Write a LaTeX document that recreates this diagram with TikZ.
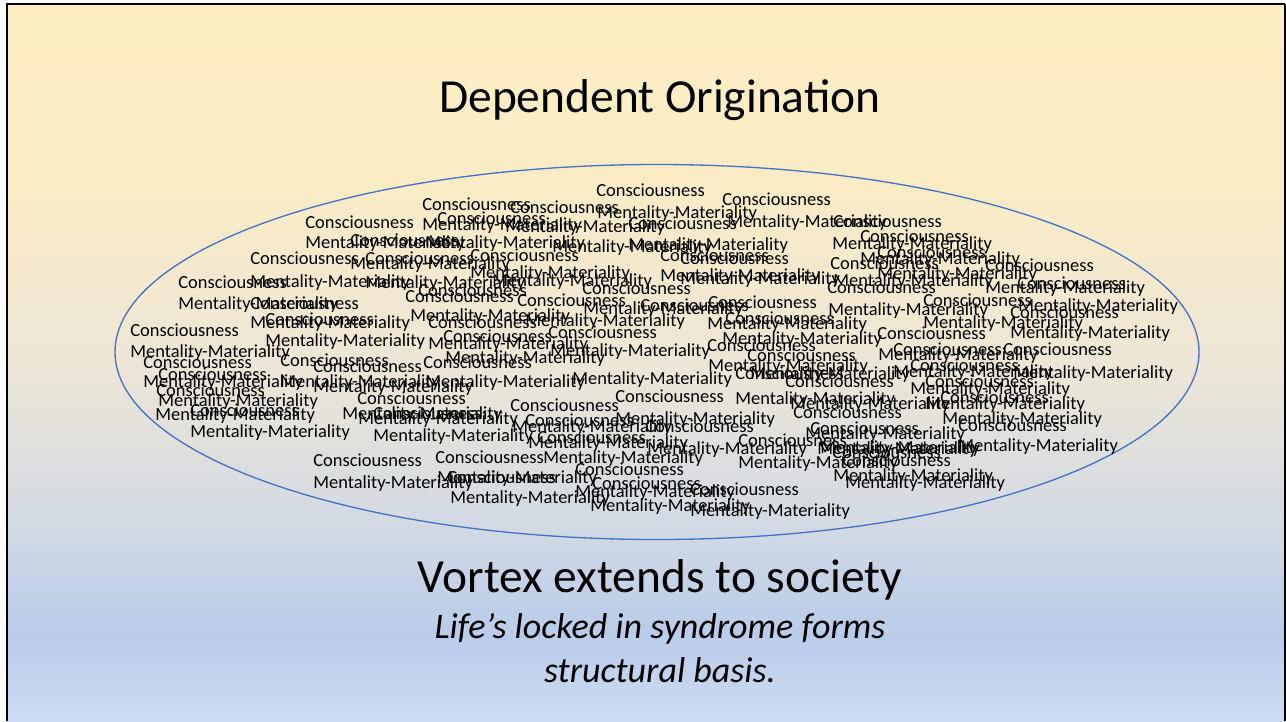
\documentclass[tikz,border=0pt]{standalone}
\usepackage{fontspec}
\setmainfont{Carlito}
\usepackage{xcolor}
\usepackage{tikz}
\definecolor{slideA}{HTML}{FFEEC2}
\definecolor{slideB}{HTML}{FBECC6}
\definecolor{slideC}{HTML}{EDE6D6}
\definecolor{slideD}{HTML}{D3DAE3}
\definecolor{slideE}{HTML}{B9CCEA}
\definecolor{slideF}{HTML}{CDDCF2}
\definecolor{ringblue}{HTML}{4472C4}
\pgfdeclareverticalshading{slidebg}{100bp}{color(0bp)=(slideF); color(25bp)=(slideF);
  color(31bp)=(slideE); color(39bp)=(slideD); color(50bp)=(slideC);
  color(62.5bp)=(slideB); color(75bp)=(slideA); color(100bp)=(slideA)}
\tikzset{
  lbl/.style={anchor=base west,inner sep=0pt,font=\fontsize{10.5}{12}\selectfont},
  ring/.style={draw=ringblue,line width=0.75pt}
}
\newcommand{\drawCons}[2]{% left end, middle: x,y
  \node[lbl] (cons-#1-#2) at (#1,#2+6) {Consciousness};
}
\newcommand{\drawMentMat}[2]{% left end, middle: x,y
  \node[lbl] (mm-#1-#2) at (#1,#2+6) {Mentality-Materiality};
}

\begin{document}
\begin{tikzpicture}[x=0.02cm,y=-0.02cm]
\useasboundingbox (0,0) rectangle (1286,721);

% Slide background
\fill[white] (0,0) rectangle (1286,721);
\shade[shading=slidebg] (7,4) rectangle (1285,721);
\draw[line width=1.1pt] (7,721) -- (7,4) -- (1285,4);
\draw[line width=0.6pt] (1285,4) -- (1285,721);

% Title
\node[font=\fontsize{27}{32}\selectfont,anchor=base] (title) at (660,112) {Dependent Origination};

% Ring
\draw[ring] (657,352) ellipse (542 and 187.5);

% Top of the ring
\drawCons{596}{190} \drawCons{722}{199} \drawCons{422}{204} \drawCons{510}{207}
\drawMentMat{597}{212} \drawCons{437}{218} \drawCons{305}{222} \drawCons{628}{223}
\drawCons{833}{221} \drawMentMat{422}{224} \drawMentMat{505}{226} \drawMentMat{727}{221}
\drawCons{350}{240} \drawCons{860}{236} \drawMentMat{305}{242} \drawMentMat{425}{242}
\drawMentMat{552}{246} \drawMentMat{628}{244} \drawMentMat{832}{243}
\drawCons{250}{258} \drawCons{365}{258} \drawCons{470}{255} \drawCons{660}{255}
\drawCons{680}{258} \drawCons{877}{252} \drawCons{830}{263} \drawCons{985}{265}
\drawMentMat{860}{258} \drawMentMat{350}{263}

% Upper middle
\drawCons{178}{282} \drawMentMat{250}{281} \drawMentMat{365}{282} \drawMentMat{470}{272}
\drawMentMat{492}{280} \drawMentMat{660}{275} \drawMentMat{680}{278} \drawMentMat{877}{273}
\drawMentMat{833}{280} \drawMentMat{985}{287} \drawCons{418}{290} \drawCons{405}{296}
\drawCons{582}{288} \drawCons{827}{287} \drawCons{1017}{283}
\drawMentMat{178}{303} \drawCons{250}{303} \drawCons{923}{300} \drawCons{517}{300}
\drawCons{640}{305} \drawCons{708}{302} \drawMentMat{1018}{305} \drawMentMat{583}{308}
\drawMentMat{828}{309} \drawCons{1010}{312} \drawMentMat{410}{315} \drawCons{265}{319}
\drawCons{725}{318} \drawMentMat{525}{320} \drawMentMat{250}{322} \drawCons{428}{322}
\drawMentMat{923}{322} \drawMentMat{707}{323}
\drawCons{130}{330} \drawCons{548}{332} \drawMentMat{1010}{332} \drawCons{877}{333}
\drawCons{443}{336} \drawMentMat{265}{340} \drawMentMat{722}{338} \drawMentMat{428}{343}
\drawCons{707}{345} \drawCons{893}{349} \drawCons{1003}{349} \drawMentMat{130}{351}
\drawMentMat{550}{350} \drawMentMat{878}{354} \drawCons{747}{355} \drawMentMat{445}{357}

% Lower middle
\drawCons{143}{362} \drawCons{280}{360} \drawCons{313}{366} \drawCons{423}{362}
\drawCons{910}{365} \drawMentMat{708}{365} \drawMentMat{893}{371} \drawMentMat{1013}{372}
\drawCons{158}{374} \drawCons{735}{373} \drawMentMat{750}{373} \drawMentMat{572}{378}
\drawMentMat{143}{381} \drawMentMat{280}{381} \drawMentMat{425}{381} \drawCons{785}{381}
\drawCons{925}{381} \drawMentMat{313}{386} \drawMentMat{910}{388} \drawCons{156}{390}
\drawCons{615}{396} \drawCons{940}{397} \drawCons{357}{398} \drawMentMat{735}{398}
\drawMentMat{158}{400} \drawMentMat{790}{403} \drawMentMat{925}{403} \drawCons{510}{405}
\drawCons{190}{410} \drawCons{793}{412} \drawCons{373}{413} \drawMentMat{342}{413}
\drawMentMat{155}{414} \drawMentMat{358}{418} \drawMentMat{615}{418} \drawMentMat{942}{418}
\drawCons{525}{420} \drawCons{958}{425} \drawCons{645}{426} \drawMentMat{512}{426}
\drawCons{810}{428} \drawMentMat{190}{431} \drawMentMat{805}{433} \drawMentMat{373}{435}

% Bottom of the ring
\drawCons{537}{437} \drawCons{738}{440} \drawMentMat{528}{442} \drawMentMat{958}{445}
\drawMentMat{820}{447} \drawMentMat{647}{448} \drawMentMat{817}{448} \drawCons{832}{452}
\drawCons{435}{457} \drawMentMat{543}{457} \drawCons{842}{460} \drawCons{313}{460}
\drawMentMat{738}{462} \drawCons{575}{469} \drawMentMat{833}{475} \drawCons{447}{477}
\drawMentMat{437}{477} \drawMentMat{313}{482} \drawMentMat{845}{482} \drawCons{592}{483}
\drawCons{690}{489} \drawMentMat{575}{491} \drawMentMat{450}{497} \drawMentMat{590}{505}
\drawMentMat{690}{510}

% Caption
\node[font=\fontsize{27}{32}\selectfont,anchor=base] (vortex) at (660,592) {Vortex extends to society};
\node[font=\fontsize{20.5}{24}\selectfont\itshape,anchor=base] (life) at (660,638) {Life’s locked in syndrome forms};
\node[font=\fontsize{20.5}{24}\selectfont\itshape,anchor=base] (basis) at (660,682) {structural basis.};
\end{tikzpicture}
\end{document}
